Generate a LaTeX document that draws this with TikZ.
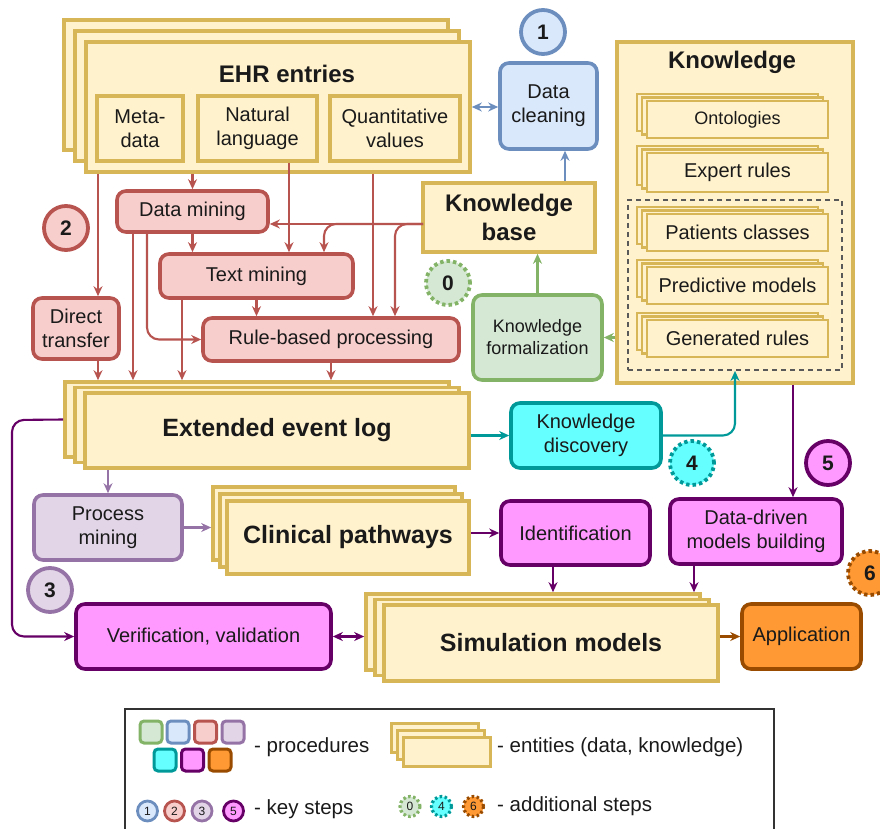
\documentclass[tikz,border=0pt]{standalone}
\usepackage{fontspec}
\setmainfont{Liberation Sans}
\usetikzlibrary{arrows.meta}
\definecolor{entF}{HTML}{FFF2CC}\definecolor{entS}{HTML}{D6B656}
\definecolor{bluF}{HTML}{DAE8FC}\definecolor{bluS}{HTML}{6C8EBF}
\definecolor{redF}{HTML}{F8CECC}\definecolor{redS}{HTML}{B85450}
\definecolor{grnF}{HTML}{D5E8D4}\definecolor{grnS}{HTML}{82B366}
\definecolor{purF}{HTML}{E1D5E7}\definecolor{purS}{HTML}{9673A6}
\definecolor{cyaF}{HTML}{66FFFF}\definecolor{cyaS}{HTML}{009999}
\definecolor{magF}{HTML}{FF99FF}\definecolor{magS}{HTML}{660066}
\definecolor{oraF}{HTML}{FF9933}\definecolor{oraS}{HTML}{994C00}
\definecolor{txt}{HTML}{1A1A1A}
\newcommand\fsz[2]{\fontsize{#1}{#2}\selectfont}
% stack: name, cx, cy, w, h, dx, dy, text, style
\newcommand\stk[9]{%
\node[ent,#9,minimum width=#4,minimum height=#5] (#1b) at ({#2-2*#6},{#3-2*#7}) {};
\node[ent,#9,minimum width=#4,minimum height=#5] (#1m) at ({#2-#6},{#3-#7}) {};
\node[ent,#9,minimum width=#4,minimum height=#5] (#1) at (#2,#3) {#8};}
\begin{document}
\begin{tikzpicture}[x=1pt,y=-1pt,
 every node/.style={text=txt},
 ent/.style={draw=entS, fill=entF, line width=3.6pt, inner sep=0pt, align=center},
 proc/.style={rounded corners=9pt, line width=3.6pt, inner sep=2pt, align=center, font=\fsz{20}{24}},
 pred/.style={proc, draw=redS, fill=redF},
 pblu/.style={proc, draw=bluS, fill=bluF},
 pgrn/.style={proc, draw=grnS, fill=grnF},
 ppur/.style={proc, draw=purS, fill=purF},
 pcya/.style={proc, draw=cyaS, fill=cyaF},
 pmag/.style={proc, draw=magS, fill=magF},
 pora/.style={proc, draw=oraS, fill=oraF},
 arr/.style={line width=2.1pt, -{Stealth[length=10pt,width=9pt]}},
 ra/.style={arr, draw=redS},
 kstep/.style={circle, line width=3.8pt, minimum size=44pt, inner sep=0pt, font=\bfseries\fsz{21}{24}},
 astep/.style={kstep, dash pattern=on 3.5pt off 3pt},
 lsq/.style={rounded corners=4pt, line width=3pt, minimum width=22pt, minimum height=22pt, inner sep=0pt},
 lks/.style={circle, line width=2.8pt, minimum size=20pt, inner sep=0pt, font=\fsz{12}{14}},
 las/.style={lks, dash pattern=on 2.5pt off 2.5pt, line width=3.2pt},
 ltxt/.style={anchor=west, inner sep=0pt, font=\fsz{20.5}{24}},
 title/.style={font=\bfseries\fsz{24}{27}, align=center, inner sep=0pt},
]
\useasboundingbox (0,0) rectangle (880,829);

% ---------- EHR entries
\stk{ehr}{278}{107}{384}{130}{11}{11}{}{}
\node[title] (ehrT) at (287,74) {EHR entries};
\node[ent, minimum width=86, minimum height=65, font=\fsz{20}{24}] (meta) at (140,128.5) {Meta-\\data};
\node[ent, minimum width=119, minimum height=65, font=\fsz{20}{24}] (nl) at (257.5,128.5) {Natural\\language};
\node[ent, minimum width=130, minimum height=65, font=\fsz{20}{24}] (qv) at (395,128.5) {Quantitative\\values};

% ---------- Data cleaning
\node[pblu, minimum width=97, minimum height=86] (dc) at (548.5,106) {Data\\cleaning};
\node[kstep, draw=bluS, fill=bluF] (s1) at (543,32) {1};

% ---------- Knowledge base
\node[ent, minimum width=172, minimum height=69, font=\bfseries\fsz{24}{29}] (kb) at (509,217.5) {Knowledge\\base};
\node[astep, draw=grnS, fill=grnF] (s0) at (448,283) {0};
\node[pgrn, minimum width=129, minimum height=85, font=\fsz{18}{22}] (kf) at (537.5,337.5) {Knowledge\\formalization};

% ---------- Knowledge
\node[ent, minimum width=236, minimum height=341] (kn) at (735,212.5) {};
\node[title] (knT) at (732,62) {Knowledge};
\stk{ont}{737.5}{119.5}{181}{37}{5}{3.5}{\fsz{18}{22}Ontologies}{line width=2.4pt}
\stk{exr}{737.5}{172.5}{181}{39}{5}{3.5}{\fsz{20}{24}Expert rules}{line width=2.4pt}
\node[draw=black!65, dash pattern=on 5pt off 4pt, line width=1.8pt, minimum width=214, minimum height=170, inner sep=0pt] (dash) at (735,285) {};
\stk{pcl}{737.5}{232.5}{181}{37}{5}{3.5}{\fsz{20}{24}Patients classes}{line width=2.4pt}
\stk{prm}{737.5}{285.5}{181}{37}{5}{3.5}{\fsz{20}{24}Predictive models}{line width=2.4pt}
\stk{gen}{737.5}{338.5}{181}{37}{5}{3.5}{\fsz{20}{24}Generated rules}{line width=2.4pt}

% ---------- red procedures
\node[pred, minimum width=151, minimum height=41] (dm) at (192.5,211.5) {Data mining};
\node[pred, minimum width=193, minimum height=44] (tm) at (256.5,276) {Text mining};
\node[pred, minimum width=256, minimum height=43] (rbp) at (331,339.5) {Rule-based processing};
\node[pred, minimum width=86, minimum height=61] (dt) at (76,328.5) {Direct\\transfer};
\node[kstep, draw=redS, fill=redF] (s2) at (66,228) {2};

% ---------- Extended event log
\stk{el}{277}{430.5}{384}{75}{10}{5.5}{\bfseries\fsz{25}{28}Extended event log}{}
\node[pcya, minimum width=150, minimum height=65] (kd) at (586,435.5) {Knowledge\\discovery};
\node[astep, draw=cyaS, fill=cyaF] (s4) at (692,463) {4};
\node[kstep, draw=magS, fill=magF] (s5) at (828,463) {5};
\node[pmag, minimum width=172, minimum height=65] (ddm) at (756,531.5) {Data-driven\\models building};
\node[astep, draw=oraS, fill=oraF] (s6) at (870,573) {6};

% ---------- Clinical pathways row
\node[ppur, minimum width=148, minimum height=65] (pm) at (108,527.5) {Process\\mining};
\stk{cp}{348}{537.5}{242}{73}{7}{7}{\bfseries\fsz{25}{28}Clinical pathways}{}
\node[pmag, minimum width=149, minimum height=64] (idn) at (575.5,533) {Identification};
\node[kstep, draw=purS, fill=purF] (s3) at (50,590) {3};

% ---------- Simulation row
\node[pmag, minimum width=255, minimum height=65] (ver) at (203.5,636.5) {Verification, validation};
\stk{sim}{551}{643}{334}{76}{9}{5.5}{\bfseries\fsz{25}{28}Simulation models}{}
\node[pora, minimum width=119, minimum height=65] (app) at (801.5,636.5) {Application};

% ---------- connectors: blue / green
\draw[line width=2.1pt, draw=bluS, {Stealth[length=10pt,width=9pt]}-{Stealth[length=10pt,width=9pt]}] (ehr.east) -- (ehr.east -| dc.west);
\draw[arr, draw=bluS] ([xshift=56]kb.north) -- ([xshift=56]kb.north |- dc.south);
\draw[arr, draw=grnS] (kf.north) -- (kf.north |- kb.south);
\draw[arr, draw=grnS] (kn.west |- kf.east) -- (kf.east);

% ---------- red connectors
\coordinate (kbL) at (423,224);
\draw[ra] ([xshift=22]dt.north |- ehr.south) -- ([xshift=22]dt.north);
\draw[ra] (dm.north |- ehr.south) -- (dm.north);
\draw[ra] ([xshift=32.5]tm.north |- nl.south) -- ([xshift=32.5]tm.north);
\draw[ra] ([xshift=42]rbp.north |- ehr.south) -- ([xshift=42]rbp.north);
\draw[ra] (kbL) -- (kbL -| dm.east);
\draw[ra, rounded corners=12pt] (kbL) -| ([xshift=67.5]tm.north);
\draw[ra, rounded corners=12pt] (kbL) -| ([xshift=64]rbp.north);
\draw[ra] (dm.south) -- (dm.south |- tm.north);
\draw[ra] ([xshift=-59.5]dm.south) -- ([xshift=-59.5]dm.south |- elb.north);
\draw[ra, rounded corners=12pt] ([xshift=-45.5]dm.south) |- (rbp.west);
\draw[ra] ([xshift=-74.5]tm.south) -- ([xshift=-74.5]tm.south |- elb.north);
\draw[ra] (tm.south) -- (tm.south |- rbp.north);
\draw[ra] (rbp.south) -- (rbp.south |- elb.north);
\draw[ra] ([xshift=22]dt.south) -- ([xshift=22]dt.south |- elb.north);

% ---------- cyan / purple / magenta / orange connectors
\draw[arr, draw=cyaS] (el.east |- kd.west) -- (kd.west);
\draw[arr, draw=cyaS, rounded corners=12pt] (kd.east) -| (dash.south);
\draw[arr, draw=magS] ([xshift=58]kn.south) -- ([xshift=58]kn.south |- ddm.north);
\draw[arr, draw=purS] (pm.north |- el.south) -- (pm.north);
\draw[arr, draw=purS] (pm.east) -- (pm.east -| cpb.west);
\draw[arr, draw=magS] (cp.east |- idn.west) -- (idn.west);
\draw[arr, draw=magS] ([xshift=-22.5]idn.south) -- ([xshift=-22.5]idn.south |- simb.north);
\draw[arr, draw=magS] ([xshift=-62]ddm.south) -- ([xshift=-62]ddm.south |- simb.north);
\draw[line width=2.1pt, draw=magS, {Stealth[length=10pt,width=9pt]}-{Stealth[length=10pt,width=9pt]}] (ver.east) -- (ver.east -| simb.west);
\draw[arr, draw=oraS] (sim.east |- app.west) -- (app.west);
\coordinate (pl) at (12,420);
\draw[arr, draw=magS, rounded corners=12pt] (elb.west) -- (pl) |- (ver.west);

% ---------- legend
\node[draw=black!80, line width=1.8pt, minimum width=649, minimum height=131, inner sep=0pt] (leg) at (449.5,774.5) {};
\node[lsq, draw=grnS, fill=grnF] (lq1) at (151,732) {};
\node[lsq, draw=bluS, fill=bluF] (lq2) at (178,732) {};
\node[lsq, draw=redS, fill=redF] (lq3) at (205.5,732) {};
\node[lsq, draw=purS, fill=purF] (lq4) at (233,732) {};
\node[lsq, draw=cyaS, fill=cyaF] (lq5) at (165,760) {};
\node[lsq, draw=magS, fill=magF] (lq6) at (192.5,760) {};
\node[lsq, draw=oraS, fill=oraF] (lq7) at (220,760) {};
\node[ltxt] (lt1) at (254,747) {- procedures};
\stk{lent}{446.5}{751.5}{87}{29}{6}{7}{}{line width=3pt}
\node[ltxt] (lt2) at (497,747) {- entities (data, knowledge)};
\node[lks, draw=bluS, fill=bluF] (lk1) at (147.5,811) {1};
\node[lks, draw=redS, fill=redF] (lk2) at (174.5,811) {2};
\node[lks, draw=purS, fill=purF] (lk3) at (202,811) {3};
\node[lks, draw=magS, fill=magF] (lk5) at (233.5,811) {5};
\node[ltxt] (lt3) at (254,809) {- key steps};
\node[las, draw=grnS, fill=grnF] (la0) at (410,806.5) {0};
\node[las, draw=cyaS, fill=cyaF] (la4) at (441.5,806.5) {4};
\node[las, draw=oraS, fill=oraF] (la6) at (473.5,806.5) {6};
\node[ltxt] (lt4) at (497,806) {- additional steps};
\end{tikzpicture}
\end{document}
